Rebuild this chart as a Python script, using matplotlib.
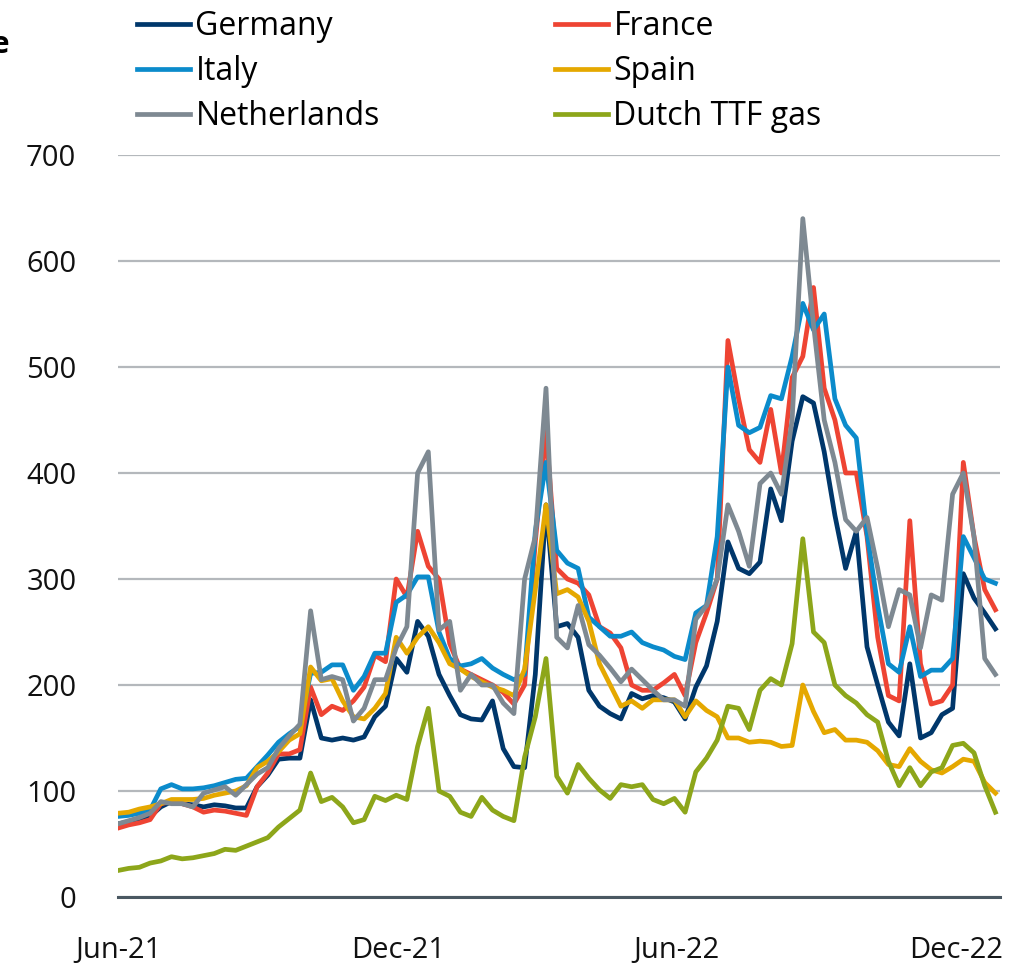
import numpy as np
import pandas as pd
import matplotlib
matplotlib.use("Agg")
import matplotlib.pyplot as plt
import matplotlib.dates as mdates

plt.rcParams['font.family'] = ['Open Sans', 'DejaVu Sans']

# weekly observations from 1 Jun 2021, EUR/MWh
dates = pd.date_range("2021-06-01", periods=83, freq="7D")

germany = [69, 71, 73, 76, 85, 90, 88, 87, 85, 87, 86, 84, 84, 104, 115, 130, 131, 131, 186, 150,
           148, 150, 148, 151, 170, 180, 225, 212, 260, 246, 210, 190, 172, 168, 167, 185, 140, 123, 122, 210,
           370, 255, 258, 245, 195, 180, 173, 168, 192, 187, 190, 188, 184, 168, 198, 218, 260, 335, 310, 305,
           316, 385, 355, 430, 472, 466, 420, 360, 310, 345, 236, 200, 165, 152, 220, 150, 155, 172, 178, 305,
           282, 268, 253]
france = [65, 68, 70, 73, 88, 90, 88, 85, 80, 82, 81, 79, 77, 104, 117, 135, 135, 139, 198, 172,
          180, 176, 185, 198, 228, 222, 300, 283, 345, 312, 300, 239, 215, 210, 205, 200, 193, 182, 200, 335,
          440, 310, 300, 296, 285, 255, 249, 235, 200, 195, 195, 202, 210, 190, 240, 268, 300, 525, 470, 422,
          410, 460, 400, 490, 510, 575, 480, 450, 400, 400, 340, 245, 190, 185, 355, 220, 182, 185, 200, 410,
          340, 290, 271]
italy = [76, 77, 79, 82, 102, 106, 102, 102, 103, 105, 108, 111, 112, 123, 134, 146, 154, 161, 211, 212,
         219, 219, 195, 208, 230, 230, 278, 285, 302, 302, 250, 225, 218, 220, 225, 216, 210, 205, 210, 345,
         410, 327, 315, 310, 264, 255, 246, 246, 250, 240, 236, 233, 227, 224, 268, 275, 340, 500, 445, 438,
         443, 473, 470, 510, 560, 535, 550, 470, 445, 433, 343, 275, 220, 212, 255, 208, 214, 214, 225, 340,
         320, 300, 296]
spain = [79, 80, 83, 85, 88, 92, 92, 92, 93, 96, 98, 100, 105, 122, 128, 137, 148, 154, 217, 204,
         206, 185, 170, 168, 178, 192, 245, 230, 245, 255, 240, 220, 215, 208, 203, 198, 195, 190, 215, 290,
         370, 286, 290, 283, 260, 220, 200, 180, 185, 178, 186, 186, 186, 170, 185, 176, 170, 150, 150, 146,
         147, 146, 142, 143, 200, 175, 155, 158, 148, 148, 146, 138, 125, 123, 140, 128, 120, 117, 123, 130,
         128, 108, 98]
netherlands = [69, 72, 75, 79, 90, 88, 88, 85, 98, 101, 104, 96, 106, 116, 122, 140, 152, 163, 270, 205,
               208, 205, 166, 178, 205, 205, 235, 255, 400, 420, 252, 260, 195, 210, 200, 200, 183, 173, 300, 340,
               480, 245, 235, 275, 238, 228, 216, 203, 215, 205, 195, 186, 186, 180, 262, 275, 300, 370, 345, 312,
               390, 400, 380, 450, 640, 540, 450, 410, 356, 345, 358, 310, 255, 290, 285, 235, 285, 280, 380, 400,
               340, 225, 210]
ttf_gas = [25, 27, 28, 32, 34, 38, 36, 37, 39, 41, 45, 44, 48, 52, 56, 66, 74, 82, 117, 90,
           94, 85, 70, 73, 95, 91, 96, 92, 142, 178, 100, 95, 80, 76, 94, 82, 76, 72, 132, 170,
           225, 114, 98, 125, 112, 101, 93, 106, 104, 106, 92, 88, 93, 80, 118, 131, 148, 180, 178, 158,
           195, 206, 200, 239, 338, 250, 240, 200, 190, 183, 172, 165, 128, 105, 122, 105, 118, 122, 143, 145,
           136, 105, 80]

series = [
    ("Germany", germany, "#00376b"),
    ("France", france, "#ee4433"),
    ("Italy", italy, "#0b8bcb"),
    ("Spain", spain, "#e5a800"),
    ("Netherlands", netherlands, "#7e8992"),
    ("Dutch TTF gas", ttf_gas, "#8da61a"),
]

fig = plt.figure(figsize=(10.19, 9.68), dpi=100)
ax = fig.add_axes([118 / 1019, 1 - 897 / 968, (1000 - 118) / 1019, (897 - 155) / 968])

lines = {}
for name, vals, col in series:
    ln, = ax.plot(dates, vals, color=col, lw=3.4, solid_joinstyle="round", label=name)
    lines[name] = ln

ax.set_ylim(0, 700)
ax.set_yticks(range(0, 701, 100))
ax.set_xlim(pd.Timestamp("2021-06-01"), pd.Timestamp("2022-12-30"))
ax.set_xticks([pd.Timestamp(d) for d in ["2021-06-01", "2021-12-01", "2022-06-01", "2022-12-01"]])
ax.xaxis.set_major_formatter(mdates.DateFormatter("%b-%y"))

ax.grid(axis="y", color="#b4b8bc", lw=1.6)
ax.set_axisbelow(True)
for s in ["top", "right", "left"]:
    ax.spines[s].set_visible(False)
ax.spines["bottom"].set_color("#4a5862")
ax.spines["bottom"].set_linewidth(2.2)
ax.spines["bottom"].set_zorder(5)
ax.tick_params(axis="both", length=0, labelsize=21, colors="#111111")
ax.tick_params(axis="y", pad=30)
ax.tick_params(axis="x", pad=28)

leg_kw = dict(loc="upper left", frameon=False, fontsize=23, handlelength=1.65,
              handletextpad=0.18, labelspacing=0.38, borderpad=0, borderaxespad=0)
fig.legend([lines["Germany"], lines["Italy"], lines["Netherlands"]],
           ["Germany", "Italy", "Netherlands"],
           bbox_to_anchor=(137 / 1019, 1 - 10 / 968), **leg_kw)
fig.legend([lines["France"], lines["Spain"], lines["Dutch TTF gas"]],
           ["France", "Spain", "Dutch TTF gas"],
           bbox_to_anchor=(555 / 1019, 1 - 10 / 968), **leg_kw)

# title is cut off at the left edge in the source
fig.text(10 / 1019, 1 - 45 / 968, "Wholesale power price", ha="right", va="center",
         fontsize=22, fontweight="bold")

fig.savefig("out.png", dpi=100)
